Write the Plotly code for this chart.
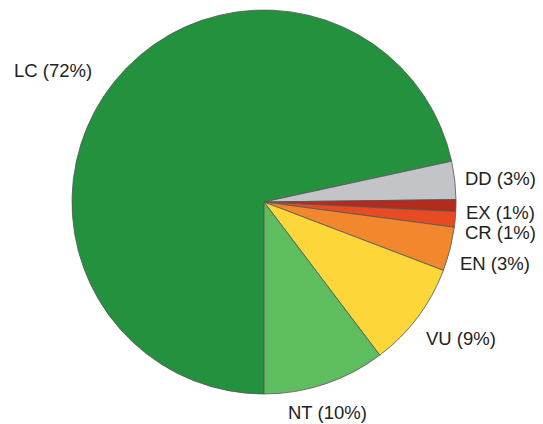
import math
import plotly.graph_objects as go

# ---- data ----
categories = ["LC", "DD", "EX", "CR", "EN", "VU", "NT"]
values = [71.6, 3.2, 1.0, 1.3, 3.7, 8.9, 10.3]
label_pct = [72, 3, 1, 1, 3, 9, 10]
colors = ["#24913f", "#c3c4c8", "#b22b1c", "#e84b24", "#f2872e", "#fdd63a", "#5dbd5f"]

# ---- geometry (page body has an 8px margin) ----
OFF = 8
W, H = 543 - OFF, 424 - OFF
cx, cy, R = 264 - OFF, 202 - OFF, 192
rotation = 180  # first slice starts at 6 o'clock, clockwise
FS = 18.5

dom_x = [(cx - R) / W, (cx + R) / W]
dom_y = [(H - cy - R) / H, (H - cy + R) / H]

fig = go.Figure(go.Pie(
    labels=categories,
    values=values,
    sort=False,
    direction="clockwise",
    rotation=rotation,
    marker=dict(colors=colors, line=dict(color="#555555", width=0.8)),
    textinfo="none",
    hoverinfo="label+percent",
    domain=dict(x=dom_x, y=dom_y),
    showlegend=False,
))

# labels placed at slice mid-angles derived from the data
total = sum(values)
start = 90 - rotation
cum = 0.0
pts = []
for cat, v, p in zip(categories, values, label_pct):
    mid = start - 360 * (cum + v / 2) / total
    cum += v
    th = math.radians(mid)
    c, s = math.cos(th), math.sin(th)
    gx = 28 if c < 0 else 9
    gy = 18 if s > 0 else 20
    px = cx + (R + gx) * c
    py = cy - (R + gy) * s
    xanchor = "left" if c > 0.5 else ("right" if c < -0.5 else "center")
    yanchor = "top" if s < 0 else "middle"
    ccy = py + (FS / 2 if yanchor == "top" else 0)
    pts.append([cat, p, px, ccy, xanchor])

# simple overlap resolution for right-side labels (push neighbours apart)
right = sorted([q for q in pts if q[4] == "left"], key=lambda q: -q[3])
MIN_SP = 20
for i in range(1, len(right)):
    lower, upper = right[i - 1], right[i]
    d = lower[3] - upper[3]
    if d < MIN_SP:
        need = MIN_SP - d
        lower[3] += need / 2
        upper[3] -= need / 2

annotations = []
for cat, p, px, ccy, xa in pts:
    annotations.append(dict(
        x=px / W, y=(H - ccy) / H, xref="paper", yref="paper",
        text=f"{cat} ({p}%)", showarrow=False,
        xanchor=xa, yanchor="middle", borderpad=0,
        font=dict(family="Liberation Sans, Arial, sans-serif", size=FS, color="#222222"),
    ))

fig.update_layout(
    width=W, height=H,
    margin=dict(l=0, r=0, t=0, b=0),
    paper_bgcolor="white",
    plot_bgcolor="white",
    annotations=annotations,
)

fig.write_html("out.html")
